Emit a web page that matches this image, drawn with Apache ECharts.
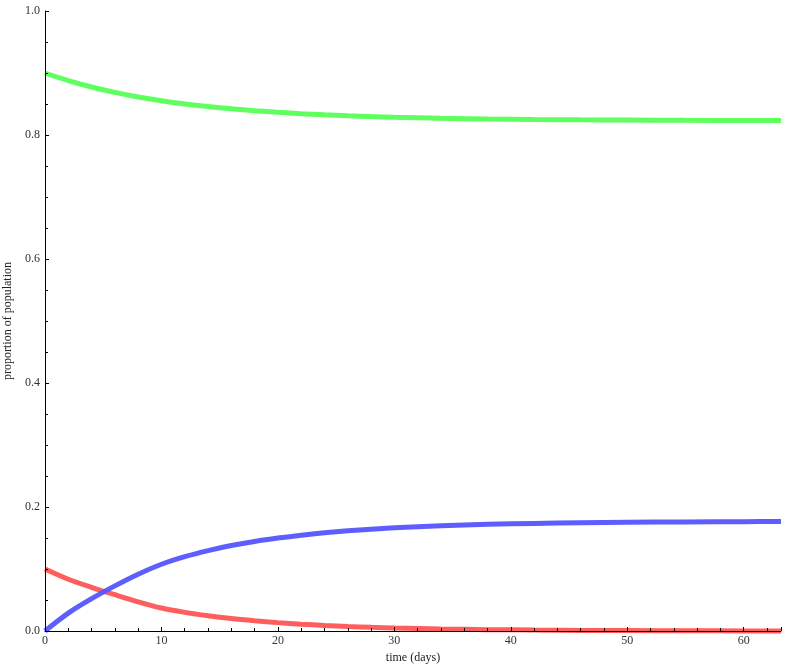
<!DOCTYPE html>
<html>
<head>
<meta charset="utf-8">
<script src="https://cdn.jsdelivr.net/npm/echarts@6/dist/echarts.min.js"></script>
<style>
  html, body { margin: 0; padding: 0; background: #fff; }
  #chart { width: 785px; height: 669px; }
</style>
</head>
<body>
<div id="chart"></div>
<script>
// time in days
const days = [0, 2, 4, 6, 8, 10, 12, 14, 16, 18, 20, 22, 24, 26, 28, 30, 34, 38, 42, 46, 50, 55, 60, 63.2];
// susceptible (green)
const susceptible = [0.900, 0.8877, 0.8774, 0.8687, 0.8614, 0.8553, 0.8501, 0.8458, 0.8422, 0.8391, 0.8366, 0.8344,
  0.8325, 0.8310, 0.8297, 0.8287, 0.8270, 0.8258, 0.8250, 0.8244, 0.8240, 0.8236, 0.8234, 0.8233];
// infected (red)
const infected = [0.100, 0.0835, 0.0705, 0.0585, 0.0470, 0.0370, 0.0300, 0.0245, 0.0200, 0.0165, 0.0135, 0.0110,
  0.0090, 0.0073, 0.0060, 0.0049, 0.0033, 0.0022, 0.0015, 0.0010, 0.0007, 0.0004, 0.0002, 0.0001];
// recovered (blue)
const recovered = [0, 0.0288, 0.0521, 0.0728, 0.0916, 0.1077, 0.1199, 0.1297, 0.1378, 0.1444, 0.1499, 0.1546,
  0.1585, 0.1617, 0.1643, 0.1664, 0.1697, 0.1720, 0.1735, 0.1746, 0.1753, 0.1760, 0.1764, 0.1766];

const xTicks = [0, 10, 20, 30, 40, 50, 60];
const yTicks = [0, 0.2, 0.4, 0.6, 0.8, 1.0];

const font = "'Liberation Serif', 'DejaVu Serif', serif";

function pairs(values) {
  return days.map((d, i) => [d, values[i]]);
}

function lineSeries(name, values, color) {
  return {
    name,
    type: "line",
    data: pairs(values),
    smooth: 0.3,
    showSymbol: false,
    clip: false,
    lineStyle: { color, width: 5, opacity: 0.95 },
    z: 2,
  };
}

const chart = echarts.init(document.getElementById("chart"));
chart.setOption({
  animation: false,
  grid: { left: 45, right: 4, top: 11, bottom: 38, containLabel: false, outerBoundsMode: "none" },
  xAxis: {
    type: "value",
    min: 0,
    max: 63.2,
    interval: 10,
    name: "time (days)",
    nameLocation: "middle",
    nameGap: 21,
    nameTextStyle: { fontFamily: font, fontSize: 12, color: "#222" },
    axisLine: { lineStyle: { color: "#000", width: 1 } },
    axisTick: { inside: true, length: 4, lineStyle: { color: "#000" } },
    minorTick: { show: true, splitNumber: 5, length: 3, lineStyle: { color: "#000" } },
    splitLine: { show: false },
    axisLabel: {
      fontFamily: font,
      fontSize: 12,
      color: "#333",
      margin: 4,
      formatter: (v) => (xTicks.includes(v) ? String(v) : ""),
    },
    z: 10,
  },
  yAxis: {
    type: "value",
    min: 0,
    max: 1,
    interval: 0.2,
    name: "proportion of population",
    nameLocation: "middle",
    nameGap: 27,
    nameTextStyle: { fontFamily: font, fontSize: 12, color: "#222" },
    axisLine: { show: true, lineStyle: { color: "#000", width: 1 } },
    axisTick: { show: true, inside: true, length: 4, lineStyle: { color: "#000" } },
    minorTick: { show: true, splitNumber: 4, length: 3, lineStyle: { color: "#000" } },
    splitLine: { show: false },
    axisLabel: {
      fontFamily: font,
      fontSize: 12,
      color: "#333",
      margin: 5,
      formatter: (v) => {
        const t = yTicks.find((y) => Math.abs(y - v) < 1e-9);
        return t === undefined ? "" : t.toFixed(1);
      },
    },
    z: 10,
  },
  series: [
    lineSeries("susceptible", susceptible, "#55ff55"),
    lineSeries("infected", infected, "#ff5555"),
    lineSeries("recovered", recovered, "#5555ff"),
  ],
});
</script>
</body>
</html>
